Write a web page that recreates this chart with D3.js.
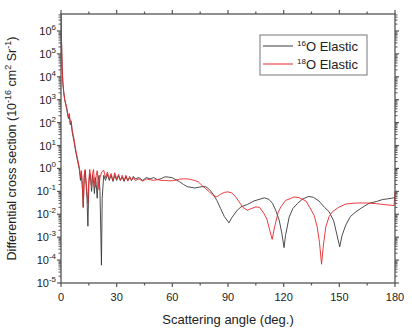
<!DOCTYPE html>
<html><head><meta charset="utf-8">
<script src="https://cdn.jsdelivr.net/npm/d3@7"></script>
<style>body{margin:0;background:#fff}svg{display:block;font-family:"Liberation Sans",Arial,sans-serif}</style>
</head><body><svg id="c" width="412" height="332"></svg>
<script>
// Data (angle in degrees, cross section in 1e-16 cm^2 sr^-1)
const anglesO16 = [0,0.3,0.6,1,1.5,2,3,4,4.5,5,5.5,6,7,8,9,10,10.5,11,11.5,12,12.5,13,13.5,14,14.5,15,15.5,16,16.5,17,17.5,18,18.5,19,19.5,20,20.5,21,21.5,21.8,22.2,23,24,25,26,27,28,29,30,31,32,33,34,35,36,37,38,39,40,42,44,46,48,50,52,54,56,58,60,62,64,66,68,70,72,74,76,78,80,82,84,86,88,90.5,92,95,97,100.5,104,109.5,112,114,116,117.6,119,120.2,121,123,125,127.5,130,133.5,136,139,142,144.5,147,148.5,150.2,151.5,153.5,156,159,162,166,170,173.3,176,178,180];
const valuesO16 = [5e6,3e5,3e4,5e3,2e3,1e3,400,150,200,80,100,40,15,5,2,0.8,0.3,0.6,0.15,0.02,0.4,0.8,0.2,0.05,0.003,0.2,0.6,0.3,0.1,0.5,0.3,0.08,0.4,0.2,0.05,0.3,0.5,0.1,0.001,6e-5,0.05,0.5,0.3,0.55,0.3,0.5,0.27,0.5,0.3,0.48,0.3,0.42,0.27,0.45,0.3,0.4,0.3,0.45,0.35,0.4,0.3,0.4,0.35,0.4,0.32,0.36,0.43,0.42,0.39,0.32,0.26,0.2,0.16,0.15,0.14,0.15,0.16,0.16,0.12,0.075,0.04,0.018,0.008,0.0042,0.007,0.015,0.021,0.027,0.038,0.052,0.045,0.03,0.013,0.0055,0.0015,3.5e-4,0.0012,0.0077,0.018,0.03,0.045,0.06,0.055,0.038,0.02,0.013,0.005,0.0015,3.8e-4,0.0012,0.0034,0.008,0.013,0.019,0.03,0.036,0.044,0.047,0.05,0.053];
const anglesO18 = [0,0.3,0.6,1,1.5,2,3,4,4.5,5,5.5,6,7,8,9,10,10.5,11,11.5,12,12.5,13,13.5,14,14.5,15,15.5,16,16.5,17,17.5,18,18.5,19,19.5,20,20.5,21,22,23,24,25,26,27,28,29,30,31,32,33,34,35,36,37,38,39,40,42,44,46,48,50,52,54,56,58,60,62,64,66,68,70,72,74,76,78,80,82,84,86,88,90,92,94,96,98,100.5,102,105,107,109.3,111,112.5,113.8,115,117,118.5,121,123.8,125.6,128.3,132,134,136.4,138,139.3,140.4,141.5,142.7,144.5,146.3,150,153.5,159,165,170,175,179.5,180];
const valuesO18 = [6e6,3e5,3e4,6e3,2e3,1e3,500,180,250,100,120,50,20,6,2.5,1,0.4,0.8,0.2,0.02,0.5,0.9,0.3,0.1,0.03,0.3,0.9,0.4,0.15,0.6,0.9,0.3,0.15,0.5,0.8,0.3,0.12,0.4,0.7,0.85,0.4,0.7,0.35,0.6,0.3,0.65,0.35,0.55,0.3,0.5,0.3,0.5,0.28,0.45,0.3,0.4,0.3,0.35,0.28,0.35,0.32,0.3,0.33,0.3,0.3,0.29,0.29,0.31,0.34,0.35,0.35,0.33,0.3,0.26,0.18,0.13,0.095,0.065,0.058,0.075,0.09,0.095,0.085,0.06,0.035,0.02,0.015,0.017,0.021,0.02,0.011,0.006,0.002,8e-4,0.0025,0.012,0.021,0.04,0.049,0.057,0.053,0.038,0.02,0.009,0.003,6e-4,6.6e-5,5e-4,0.0028,0.008,0.013,0.021,0.028,0.031,0.031,0.029,0.026,0.024,0.1];
const xTicks = [0,30,60,90,120,150,180];
const yTickExps = [-5,-4,-3,-2,-1,0,1,2,3,4,5,6];
const seriesNames = ["16","18"];
const seriesColors = ["#3a3a3a","#e8282b"];

const svg = d3.select("#c");
const L = 61, R = 395, T = 14, B = 283;
const x = d3.scaleLinear().domain([0,180]).range([L,R]);
const y = d3.scaleLog().domain([1e-5, 5.5e6]).range([B,T]);

const plot = svg.append("g");
plot.append("clipPath").attr("id","clip").append("rect").attr("x",L).attr("y",T).attr("width",R-L).attr("height",B-T);
const line = d3.line().x(d=>x(d[0])).y(d=>y(d[1]));
const sets = [[anglesO16,valuesO16],[anglesO18,valuesO18]];
sets.forEach((s,i)=>{
  const pts = s[0].map((a,k)=>[a,s[1][k]]);
  plot.append("path").datum(pts).attr("clip-path","url(#clip)")
    .attr("d",line).attr("fill","none").attr("stroke",seriesColors[i]).attr("stroke-width",1)
    .attr("stroke-linejoin","round").attr("opacity",0.9);
});

const axisColor = "#555";
// frame
svg.append("rect").attr("x",L).attr("y",T).attr("width",R-L).attr("height",B-T)
  .attr("fill","none").attr("stroke",axisColor).attr("stroke-width",1.3);

// x ticks
const xMinor = d3.range(15,180,30);
function xt(g, yy, dir){
  xTicks.forEach(v=>g.append("line").attr("x1",x(v)).attr("x2",x(v)).attr("y1",yy).attr("y2",yy+dir*4).attr("stroke",axisColor).attr("stroke-width",1.2));
  xMinor.forEach(v=>g.append("line").attr("x1",x(v)).attr("x2",x(v)).attr("y1",yy).attr("y2",yy+dir*2.5).attr("stroke",axisColor).attr("stroke-width",1.2));
}
const ax = svg.append("g");
xt(ax,B,1); xt(ax,T,-1);
ax.selectAll("text.xl").data(xTicks).join("text").attr("x",d=>x(d)).attr("y",B+18)
  .attr("text-anchor","middle").attr("font-size",11).attr("fill","#222").text(d=>d);

// y ticks
function yt(g, xx, dir){
  yTickExps.forEach(e=>{
    g.append("line").attr("x1",xx).attr("x2",xx+dir*4).attr("y1",y(Math.pow(10,e))).attr("y2",y(Math.pow(10,e))).attr("stroke",axisColor).attr("stroke-width",1.2);
    for(let m=2;m<=9;m++){
      const v=m*Math.pow(10,e);
      if(v>5.5e6) continue;
      g.append("line").attr("x1",xx).attr("x2",xx+dir*2.5).attr("y1",y(v)).attr("y2",y(v)).attr("stroke",axisColor).attr("stroke-width",1);
    }
  });
}
yt(ax,L,-1); yt(ax,R,1);
yTickExps.forEach(e=>{
  const t = ax.append("text").attr("x",L-5).attr("y",y(Math.pow(10,e))+4).attr("text-anchor","end").attr("font-size",11).attr("fill","#222");
  t.append("tspan").text("10");
  t.append("tspan").attr("font-size",8).attr("dy",-5).text(e);
});

// axis titles
svg.append("text").attr("x",(L+R)/2).attr("y",324).attr("text-anchor","middle").attr("font-size",13).attr("fill","#222")
  .text("Scattering angle (deg.)");
const yl = svg.append("text").attr("transform",`translate(16,${(T+B)/2}) rotate(-90)`).attr("text-anchor","middle").attr("font-size",12.5).attr("fill","#222");
yl.append("tspan").text("Differential cross section (10");
yl.append("tspan").attr("font-size",9).attr("dy",-5).text("-16");
yl.append("tspan").attr("dy",5).text(" cm");
yl.append("tspan").attr("font-size",9).attr("dy",-5).text("2");
yl.append("tspan").attr("dy",5).text(" Sr");
yl.append("tspan").attr("font-size",9).attr("dy",-5).text("-1");
yl.append("tspan").attr("dy",5).text(")");

// legend
const lg = svg.append("g");
lg.append("rect").attr("x",260).attr("y",35).attr("width",107).attr("height",40).attr("fill","#fff").attr("stroke","#777").attr("stroke-width",1);
seriesNames.forEach((n,i)=>{
  const yy = 46 + i*18;
  lg.append("line").attr("x1",263).attr("x2",293).attr("y1",yy).attr("y2",yy).attr("stroke",seriesColors[i]).attr("stroke-width",1);
  const t = lg.append("text").attr("x",297).attr("y",yy+5).attr("font-size",13).attr("fill","#222");
  t.append("tspan").attr("font-size",8).attr("dy",-5).text(n);
  t.append("tspan").attr("dy",5).text("O Elastic");
});
</script></body></html>
